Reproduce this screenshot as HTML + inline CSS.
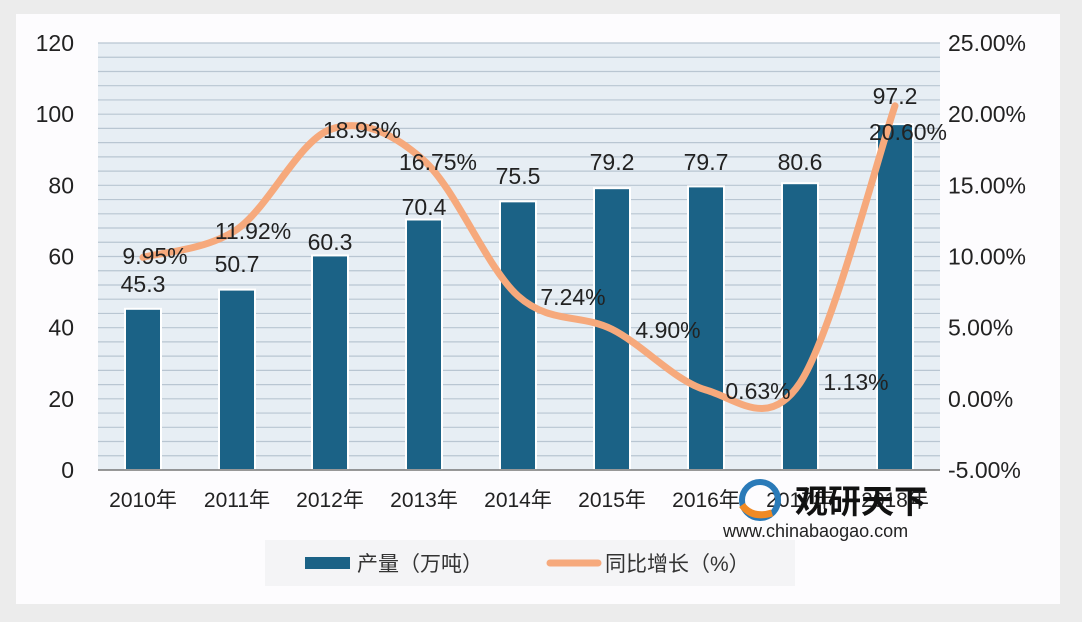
<!DOCTYPE html>
<html><head><meta charset="utf-8"><style>
html,body{margin:0;padding:0;background:#ececec;width:1082px;height:622px;overflow:hidden}
svg{display:block;font-family:"Liberation Sans","Noto Sans CJK SC",sans-serif}
</style></head><body>
<svg id="s" width="1082" height="622" xmlns="http://www.w3.org/2000/svg">
<rect x="0" y="0" width="1082" height="622" fill="#ececec"/>
<rect x="16" y="14" width="1044" height="590" fill="#fdfcfe"/>
<rect x="98" y="43" width="842" height="427" fill="#e7eef4"/>
<g id="grid"></g>
<g id="bars"></g>
<line x1="98" y1="470" x2="940" y2="470" stroke="#777" stroke-width="1.5"/>
<path id="ln" fill="none" stroke="#f6a97c" stroke-width="7" stroke-linecap="round"/>
<g id="txt" font-size="23" fill="#222"></g>
<rect x="265" y="540" width="530" height="46" fill="#f4f4f6"/>
<rect x="305" y="557" width="45" height="12" fill="#1b6286"/>
<text x="357" y="571" font-size="21" fill="#333">产量（万吨）</text>
<line x1="550" y1="563" x2="598" y2="563" stroke="#f6a97c" stroke-width="7" stroke-linecap="round"/>
<text x="605" y="571" font-size="21" fill="#333">同比增长（%）</text>
<g>
<circle cx="760" cy="500" r="18" fill="none" stroke="#2a7ab8" stroke-width="6"/>
<path d="M742 505 q10 14 30 8" stroke="#f08a24" stroke-width="7" fill="none"/>
<text x="795" y="513" font-size="33" font-weight="bold" fill="#111">观研天下</text>
<text x="723" y="537" font-size="18" fill="#222">www.chinabaogao.com</text>
</g>
</svg>
<script>
var ns="http://www.w3.org/2000/svg";
function el(t,a,p,tx){var e=document.createElementNS(ns,t);for(var k in a)e.setAttribute(k,a[k]);if(tx!=null)e.textContent=tx;document.getElementById(p).appendChild(e);return e;}
for(var i=0;i<30;i++){var y=43+i*427/30;el('line',{x1:98,x2:940,y1:y,y2:y,stroke:'#b9c6d2','stroke-width':1.2},'grid');}
var xs=[143,237,330,424,518,612,706,800,895];
var v=[45.3,50.7,60.3,70.4,75.5,79.2,79.7,80.6,97.2];
var p=[9.95,11.92,18.93,16.75,7.24,4.90,0.63,1.13,20.60];
var yrs=['2010年','2011年','2012年','2013年','2014年','2015年','2016年','2017年','2018年'];
for(var i=0;i<9;i++){var h=v[i]*427/120;
el('rect',{x:xs[i]-18,y:470-h,width:36,height:h,fill:'#1b6286',stroke:'#fff','stroke-width':2},'bars');
el('text',{x:xs[i],y:507,'text-anchor':'middle','font-size':21},'txt',yrs[i]);}
for(var i=0;i<=6;i++){el('text',{x:74,y:43+i*71.17+8,'text-anchor':'end','font-size':23},'txt',String(120-20*i));
el('text',{x:948,y:43+i*71.17+8,'font-size':23},'txt',(25-5*i).toFixed(2)+'%');}
var pts=xs.map(function(x,i){return [x,399-p[i]*14.234];});
var d='M'+pts[0][0]+','+pts[0][1];
for(var i=0;i<8;i++){var p0=pts[Math.max(0,i-1)],p1=pts[i],p2=pts[i+1],p3=pts[Math.min(8,i+2)];
d+=' C'+(p1[0]+(p2[0]-p0[0])/6)+','+(p1[1]+(p2[1]-p0[1])/6)+' '+(p2[0]-(p3[0]-p1[0])/6)+','+(p2[1]-(p3[1]-p1[1])/6)+' '+p2[0]+','+p2[1];}
document.getElementById('ln').setAttribute('d',d);
var vl=[[143,292],[237,272],[330,250],[424,215],[518,184],[612,170],[706,170],[800,170],[895,104]];
for(var i=0;i<9;i++)el('text',{x:vl[i][0],y:vl[i][1],'text-anchor':'middle'},'txt',v[i].toFixed(1));
var pl=[[155,264],[253,239],[362,138],[438,170],[573,305],[668,338],[758,399],[856,390],[908,140]];
for(var i=0;i<9;i++)el('text',{x:pl[i][0],y:pl[i][1],'text-anchor':'middle'},'txt',p[i].toFixed(2)+'%');
</script>
</body></html>
